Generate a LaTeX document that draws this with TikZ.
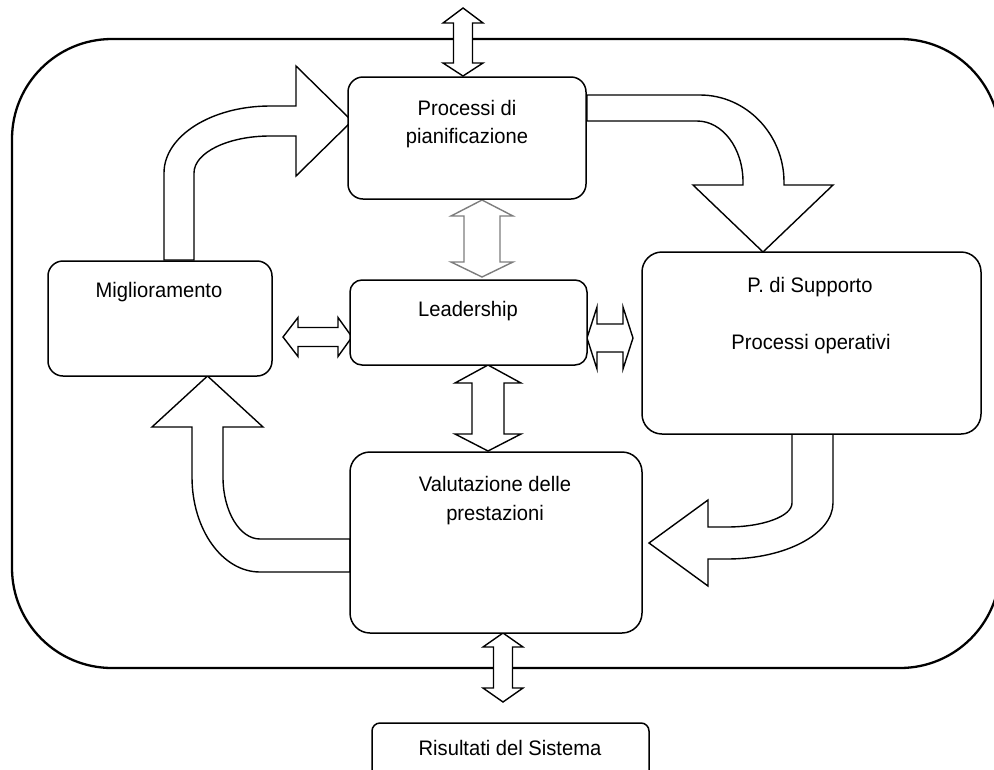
\documentclass[tikz,border=0pt]{standalone}
\usepackage{fontspec}
\setmainfont[FakeStretch=0.96]{Liberation Sans}
\definecolor{arrgray}{RGB}{125,125,125}
\newcommand\vdarr[8][]{\draw[barrow,#1] (#2,#3) -- ({#2+#5},{#3+#7}) -- ({#2+#6},{#3+#7}) -- ({#2+#6},{#4-#8}) -- ({#2+#5},{#4-#8}) -- (#2,#4) -- ({#2-#5},{#4-#8}) -- ({#2-#6},{#4-#8}) -- ({#2-#6},{#3+#7}) -- ({#2-#5},{#3+#7}) -- cycle;}
\newcommand\hdarr[8][]{\draw[barrow,#1] (#3,#2) -- ({#3+#7},{#2-#5}) -- ({#3+#7},{#2-#6}) -- ({#4-#8},{#2-#6}) -- ({#4-#8},{#2-#5}) -- (#4,#2) -- ({#4-#8},{#2+#5}) -- ({#4-#8},{#2+#6}) -- ({#3+#7},{#2+#6}) -- ({#3+#7},{#2+#5}) -- cycle;}
\begin{document}
\begin{tikzpicture}[x=1pt,y=-1pt,
  box/.style={draw, line width=1.5pt, rounded corners=#1, fill=white, inner sep=0pt},
  box/.default=15pt,
  barrow/.style={draw, fill=white, line width=1.4pt, line join=miter},
  lbl/.style={anchor=base, inner sep=0pt, font=\fontsize{21}{25}\selectfont}]
\useasboundingbox (0,0) rectangle (994,769);
\clip (0,0) rectangle (994,769);
% outer frame
\draw[line width=2.3pt, rounded corners=100pt] (12,39) rectangle (1000,668);

% curved arrow: Miglioramento -> Processi
\draw[barrow] (164,260) -- (164,173) .. controls (164,136) and (211.5,106) .. (270,106)
  -- (296,106) -- (296,66) -- (352,121) -- (296,176) -- (296,136) -- (270,136)
  .. controls (228,136) and (194,152.6) .. (194,173) -- (194,260) -- cycle;
% curved arrow: Processi -> Supporto
\draw[barrow] (587,95) -- (700,95) .. controls (746.4,95) and (784,134.5) .. (784,182)
  -- (784,185) -- (833,185) -- (763,252) -- (693,185) -- (743,185) -- (743,182)
  .. controls (743,148) and (722.4,121) .. (697,121) -- (587,121) -- cycle;
% curved arrow: Supporto -> Valutazione
\draw[barrow] (792,434) -- (792,503) .. controls (792,516.3) and (762.9,527) .. (727,527)
  -- (708,527) -- (708,500) -- (649,543) -- (708,586) -- (708,559) -- (727,559)
  .. controls (785.5,559) and (833,533.9) .. (833,503) -- (833,434) -- cycle;
% curved arrow: Valutazione -> Miglioramento
\draw[barrow] (350,539) -- (260,539) .. controls (239.6,539) and (223,511.2) .. (223,477)
  -- (223,427) -- (263,427) -- (207.5,376) -- (152,427) -- (192,427) -- (192,477)
  .. controls (192,529.5) and (222.4,572) .. (260,572) -- (350,572) -- cycle;

% straight double arrows
\vdarr{463}{8}{76}{20}{9.5}{15}{13}
\vdarr[draw=arrgray]{482}{200}{277}{31}{18}{16}{15}
\vdarr{488}{365}{451}{33}{16}{18}{17}
\vdarr{503}{633}{702}{20}{9.5}{14}{14}
\hdarr{337}{283}{352}{19.5}{9.5}{15}{14}
\hdarr{338}{587}{633}{31}{14}{10}{10}

% boxes
\node[box=15pt, minimum width=238pt, minimum height=122pt] (proc) at (467,138) {};
\node[box=12pt, minimum width=237pt, minimum height=85pt] (lead) at (468.5,322.5) {};
\node[box=15pt, minimum width=224pt, minimum height=115pt] (migl) at (160,318.5) {};
\node[box=20pt, minimum width=339pt, minimum height=182pt] (supp) at (811.5,343) {};
\node[box=20pt, minimum width=292pt, minimum height=181pt] (valu) at (496,542.5) {};
\node[box=8pt, minimum width=277pt, minimum height=70pt] (risu) at (510.5,758) {};

% texts
\node[lbl] (tproc1) at (467,115) {Processi di};
\node[lbl] (tproc2) at (467,143) {pianificazione};
\node[lbl] (tlead) at (468,316) {Leadership};
\node[lbl] (tmigl) at (159,297) {Miglioramento};
\node[lbl] (tsupp1) at (810,292) {P. di Supporto};
\node[lbl] (tsupp2) at (811,349) {Processi operativi};
\node[lbl] (tvalu1) at (495,491) {Valutazione delle};
\node[lbl] (tvalu2) at (495,520) {prestazioni};
\node[lbl] (trisu) at (510,755) {Risultati del Sistema};
\end{tikzpicture}
\end{document}
